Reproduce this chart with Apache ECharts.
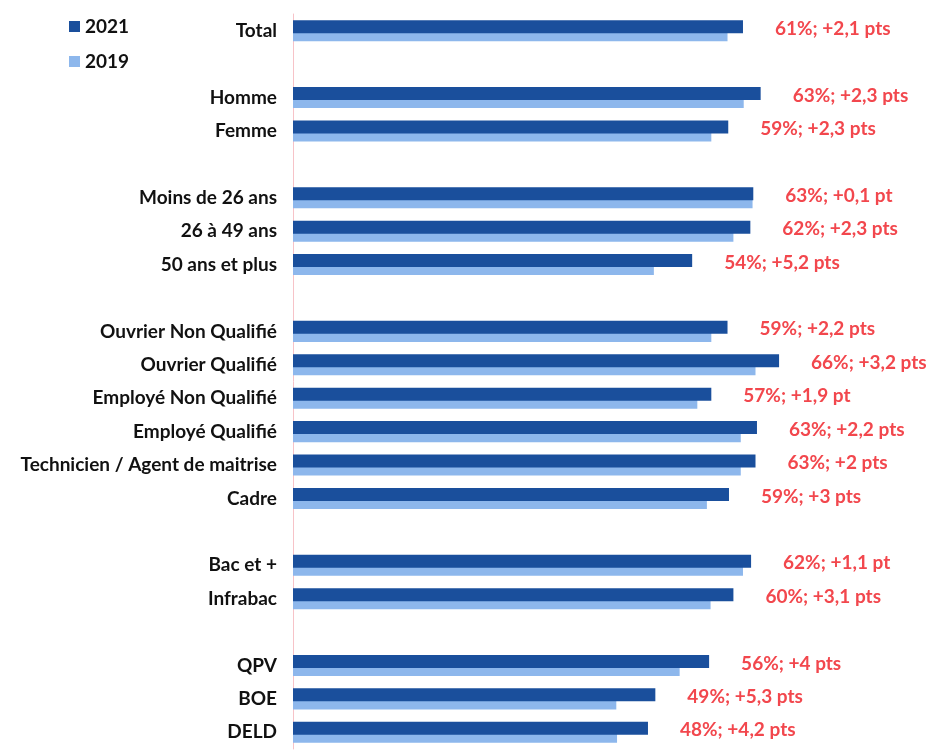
<!DOCTYPE html>
<html>
<head>
<meta charset="utf-8">
<script src="https://cdn.jsdelivr.net/npm/echarts@6/dist/echarts.min.js"></script>
<style>
  html, body { margin: 0; padding: 0; background: #fff; }
  #chart { width: 930px; height: 756px; }
</style>
</head>
<body>
<div id="chart"></div>
<script>
// groupes de catégories (une ligne vide entre chaque groupe)
const groups = [
  ['Total'],
  ['Homme', 'Femme'],
  ['Moins de 26 ans', '26 à 49 ans', '50 ans et plus'],
  ['Ouvrier Non Qualifié', 'Ouvrier Qualifié', 'Employé Non Qualifié', 'Employé Qualifié', 'Technicien / Agent de maitrise', 'Cadre'],
  ['Bac et +', 'Infrabac'],
  ['QPV', 'BOE', 'DELD']
]
// valeurs dans l'ordre des catégories ci-dessus (en %)
const values2021 = [61.1, 63.5, 59.1, 62.5, 62.1, 54.2, 59.0, 66.0, 56.8, 63.0, 62.8, 59.2, 62.2, 59.8, 56.5, 49.2, 48.2]
const values2019 = [59.0, 61.2, 56.8, 62.4, 59.8, 49.0, 56.8, 62.8, 54.9, 60.8, 60.8, 56.2, 61.1, 56.7, 52.5, 43.9, 44.0]
const labels = ['61%; +2,1 pts', '63%; +2,3 pts', '59%; +2,3 pts', '63%; +0,1 pt', '62%; +2,3 pts', '54%; +5,2 pts',
  '59%; +2,2 pts', '66%; +3,2 pts', '57%; +1,9 pt', '63%; +2,2 pts', '63%; +2 pts', '59%; +3 pts',
  '62%; +1,1 pt', '60%; +3,1 pts', '56%; +4 pts', '49%; +5,3 pts', '48%; +4,2 pts']

// construit l'axe avec des lignes vides entre les groupes
let rows = [], d2021 = [], d2019 = [], lbl = []
let k = 0
groups.forEach((g, gi) => {
  if (gi > 0) {
    rows.push('_gap' + gi)
    d2021.push('-'); d2019.push('-'); lbl.push('')
  }
  g.forEach(name => {
    rows.push(name)
    d2021.push(values2021[k]); d2019.push(values2019[k]); lbl.push(labels[k])
    k++
  })
})

const chart = echarts.init(document.getElementById('chart'))
chart.setOption({
  animation: false,
  textStyle: { fontFamily: 'Lato' },
  legend: {
    orient: 'vertical',
    left: 64,
    top: 12,
    itemGap: 16,
    itemWidth: 11,
    itemHeight: 11,
    icon: 'rect',
    data: ['2021', '2019'],
    textStyle: { fontSize: 19, fontWeight: 'bold', color: '#111', fontFamily: 'Lato' }
  },
  grid: { left: 293, right: 11, top: 14, bottom: 7 },
  xAxis: {
    type: 'value',
    min: 0,
    max: 85,
    show: false
  },
  yAxis: {
    type: 'category',
    inverse: true,
    data: rows,
    axisLine: { show: true, lineStyle: { color: '#F7C3C8', width: 1 } },
    axisTick: { show: false },
    axisLabel: {
      margin: 16,
      fontSize: 19,
      fontWeight: 'bold',
      color: '#111',
      fontFamily: 'Lato',
      formatter: v => v.indexOf('_gap') === 0 ? '' : v
    }
  },
  series: [
    {
      name: '2021',
      type: 'bar',
      data: d2021,
      barWidth: 13,
      barGap: '-38%',
      z: 3,
      itemStyle: { color: '#1A4F9C' },
      label: {
        show: true,
        position: 'right',
        distance: 32,
        offset: [0, 2],
        color: '#F2474D',
        fontSize: 19,
        fontWeight: 'bold',
        fontFamily: 'Lato',
        formatter: p => lbl[p.dataIndex]
      }
    },
    {
      name: '2019',
      type: 'bar',
      data: d2019,
      barWidth: 13,
      z: 2,
      itemStyle: { color: '#8DB7EC' }
    }
  ]
})
</script>
</body>
</html>
